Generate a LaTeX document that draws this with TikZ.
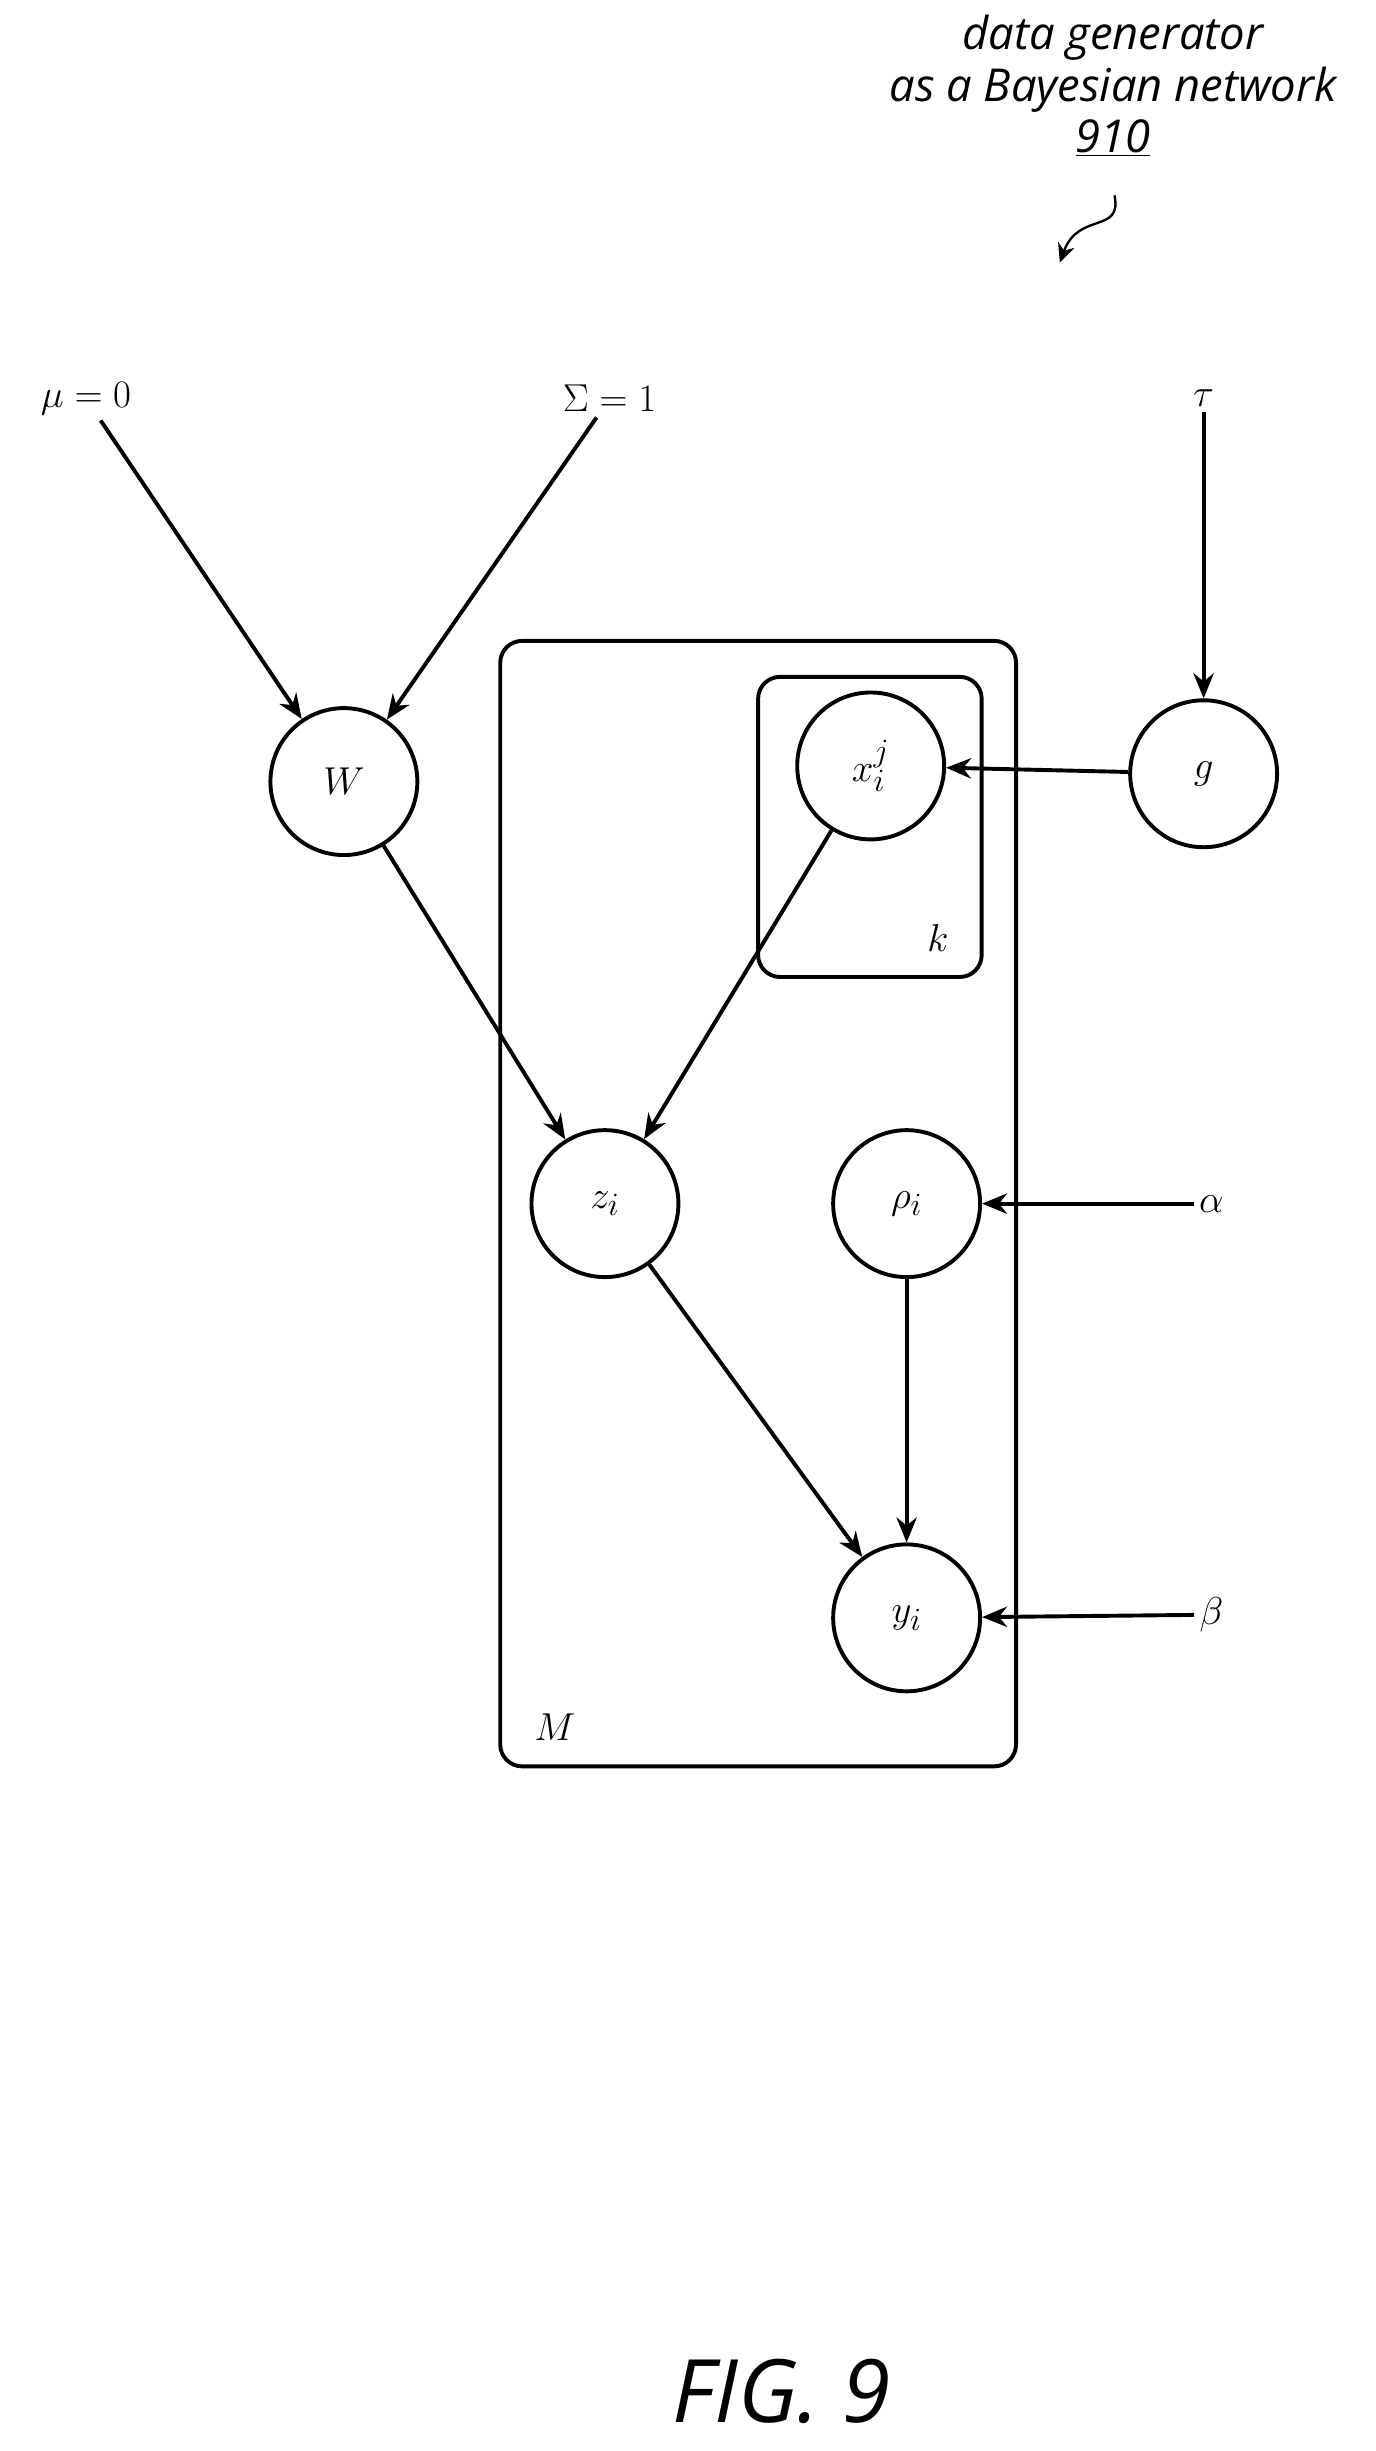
\documentclass[tikz,border=0pt]{standalone}
\usepackage{fontspec}
\setmainfont{Liberation Serif}
\setsansfont{Open Sans}
\usetikzlibrary{arrows.meta,decorations.pathmorphing}
\begin{document}
\begin{tikzpicture}[x=1pt,y=-1pt,
  var/.style={circle,draw,line width=2.5pt,minimum size=94pt,inner sep=0pt,font=\fontsize{32}{36}\selectfont},
  lab/.style={font=\fontsize{34}{38}\selectfont},
  arr/.style={line width=2.5pt,-{Stealth[length=16pt,width=13pt]}},
  plate/.style={draw,line width=2.5pt,rounded corners=14pt}]
\useasboundingbox (0,0) rectangle (880,1568);
\node[font=\sffamily\itshape\fontsize{29}{33}\selectfont,align=center] (t) at (712,55) {data generator\\as a Bayesian network\\\underline{910}};
\coordinate (s1) at (713,125);
\coordinate (s2) at (678,168);
\draw[line width=1.5pt,-{Stealth[length=12pt,width=11pt]}] (s1) .. controls (718,150) and (690,135) .. (s2);
\draw[plate] (320,410) rectangle (650,1130);
\draw[plate] (485,433) rectangle (628,625);
\node[lab] (M) at (355,1105) {$M$};
\node[lab] (k) at (600,600) {$k$};
\node[var] (W) at (220,500) {$W$};
\node[var] (g) at (770,495) {$g$};
\node[var] (x) at (557,490) {$x_i^j$};
\node[var] (z) at (387,770) {$z_i$};
\node[var] (r) at (580,770) {$\rho_i$};
\node[var] (y) at (580,1035) {$y_i$};
\node[lab] (mu) at (55,255) {$\mu = 0$};
\node[lab] (Si) at (390,255) {$\Sigma = 1$};
\node[lab] (tau) at (770,255) {$\tau$};
\node[lab] (al) at (775,770) {$\alpha$};
\node[lab] (be) at (775,1033) {$\beta$};
\draw[arr] (mu) -- (W);
\draw[arr] (Si) -- (W);
\draw[arr] (tau) -- (g);
\draw[arr] (g) -- (x);
\draw[arr] (x) -- (z);
\draw[arr] (W) -- (z);
\draw[arr] (al) -- (r);
\draw[arr] (be) -- (y);
\draw[arr] (r) -- (y);
\draw[arr] (z) -- (y);
\node[font=\sffamily\itshape\fontsize{56}{60}\selectfont] (fig) at (500,1530) {FIG. 9};
\end{tikzpicture}
\end{document}
